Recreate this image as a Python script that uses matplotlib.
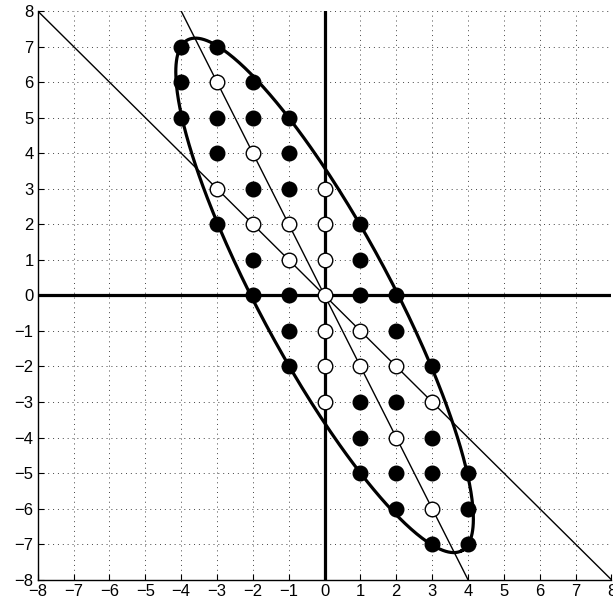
import matplotlib
matplotlib.use("Agg")
import matplotlib.pyplot as plt
import numpy as np

# lattice points inside the ellipse
black_x = [-4, -3, -4, -2, -4, -3, -2, -1, -3, -1, -2, -1, -3, 1, -2, 1,
           -2, -1, 1, 2, -1, 2, -1, 3, 1, 2, 1, 3, 1, 2, 3, 4, 2, 4, 3, 4]
black_y = [7, 7, 6, 6, 5, 5, 5, 5, 4, 4, 3, 3, 2, 2, 1, 1,
           0, 0, 0, 0, -1, -1, -2, -2, -3, -3, -4, -4, -5, -5, -5, -5, -6, -6, -7, -7]
white_x = [-3, -2, -3, 0, -2, -1, 0, -1, 0, 0, 1, 0, 2, 1, 0, 3, 0, 2, 3]
white_y = [6, 4, 3, 3, 2, 2, 2, 1, 1, 0, -1, -1, -2, -2, -2, -3, -3, -4, -6]

# quadratic form of the ellipse: a x^2 + 2 b x y + c y^2 = 1
ell_a, ell_b, ell_c = 0.236, 0.1175, 0.0776
line_slopes = [-1.0, -2.0]
ticks = list(range(-8, 9))

plt.rcParams["font.family"] = ["Liberation Sans", "DejaVu Sans"]

fig = plt.figure(figsize=(6.13, 6.09), dpi=100)
ax = fig.add_axes([0.0615, 0.048, 0.936, 0.934])

ax.set_xlim(-8, 8)
ax.set_ylim(-8, 8)
ax.set_xticks(ticks)
ax.set_yticks(ticks)
ax.set_xticklabels([str(t).replace("-", "\u2212") for t in ticks], fontsize=12)
ax.set_yticklabels([str(t).replace("-", "\u2212") for t in ticks], fontsize=12)
ax.tick_params(direction="in", length=4, width=0.8, pad=3)
ax.grid(True, color="#444444", linestyle=(0, (1, 4)), linewidth=0.7)
ax.set_axisbelow(True)
for side in ("top", "right"):
    ax.spines[side].set_visible(False)
for side in ("left", "bottom"):
    ax.spines[side].set_linewidth(1.0)

# coordinate axes
ax.axhline(0, color="black", linewidth=2.3, zorder=2)
ax.axvline(0, color="black", linewidth=2.3, zorder=2)

# thin lines through the origin
xs = np.linspace(-8, 8, 200)
for k in line_slopes:
    ax.plot(xs, k * xs, color="black", linewidth=1.0, zorder=3)

# ellipse
M = np.array([[ell_a, ell_b], [ell_b, ell_c]])
vals, vecs = np.linalg.eigh(M)
t = np.linspace(0, 2 * np.pi, 400)
circ = np.vstack([np.cos(t) / np.sqrt(vals[0]), np.sin(t) / np.sqrt(vals[1])])
pts = vecs @ circ
ax.plot(pts[0], pts[1], color="black", linewidth=2.3, zorder=4)

ax.plot(black_x, black_y, "o", color="black", markersize=10.5, zorder=5)
ax.plot(white_x, white_y, "o", markerfacecolor="white", markeredgecolor="black",
        markeredgewidth=1.0, markersize=10.5, zorder=5)

fig.savefig("out.png", dpi=100)
